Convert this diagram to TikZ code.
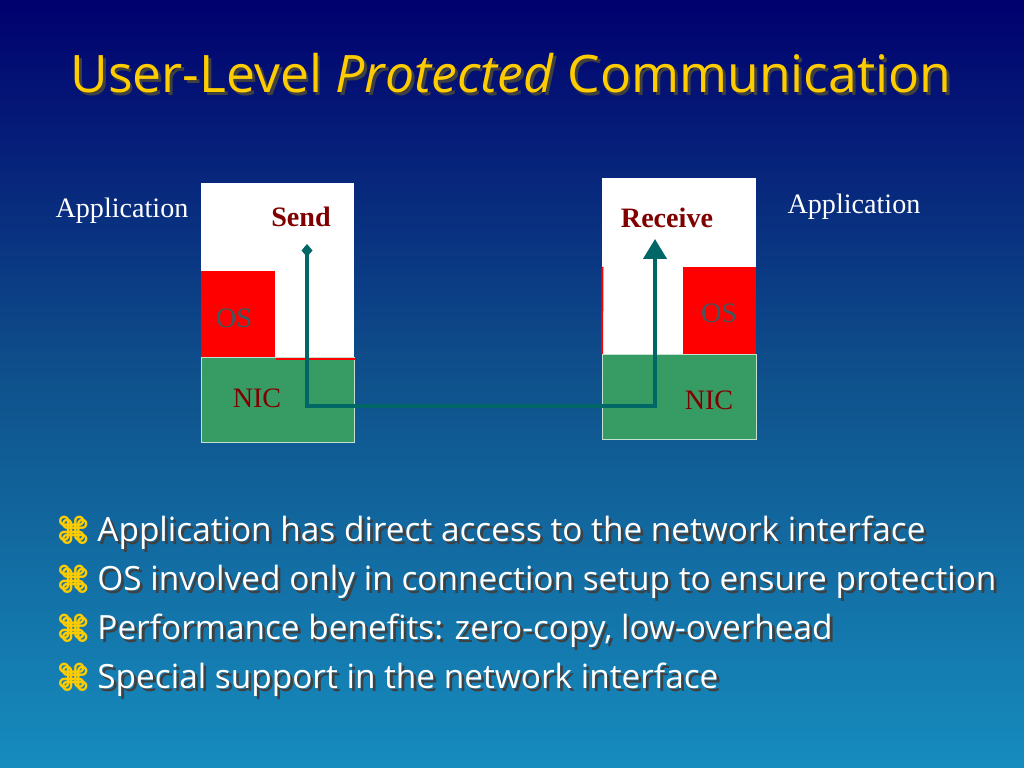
\documentclass[tikz,border=0pt]{standalone}
\usepackage{fontspec}
\setmainfont{Liberation Serif}
\newfontfamily\slidefont{Open Sans}
\newfontfamily\symfont{DejaVu Sans}
\usetikzlibrary{arrows.meta,positioning}

\definecolor{titleyellow}{RGB}{255,204,0}
\definecolor{nicgreen}{RGB}{55,155,100}
\definecolor{osred}{RGB}{255,0,0}
\definecolor{labelred}{RGB}{128,0,0}
\definecolor{ostext}{RGB}{60,90,95}
\definecolor{wireteal}{RGB}{0,102,102}
\definecolor{bgtop}{RGB}{0,0,110}
\definecolor{bgmid}{RGB}{15,82,140}
\definecolor{bgbottom}{RGB}{22,140,190}
\newcommand\shadowed[1]{\leavevmode\rlap{\raisebox{-1.6pt}{\kern1.6pt\textcolor{black!75}{#1}}}#1}

\begin{document}
\begin{tikzpicture}[
    x=0.2mm, y=-0.2mm,
    appbox/.style={rectangle, fill=white, inner sep=0pt, anchor=north west},
    osbox/.style={rectangle, fill=osred, inner sep=0pt, anchor=north west},
    nicbox/.style={rectangle, fill=nicgreen, draw=white!70!nicgreen, line width=0.3pt, inner sep=0pt, anchor=north west},
    lbl/.style={font=\fontsize{16}{18}\selectfont, inner sep=0pt},
    bullet/.style={font=\slidefont\fontsize{19}{22}\selectfont, text=white, anchor=west, inner sep=0pt},
    flow/.style={draw=wireteal, line width=0.8mm, {Diamond[length=2.6mm,width=2.2mm]}-{Triangle[length=4mm,width=4.6mm]}}
]
    \useasboundingbox (0,0) rectangle (1024,768);
    \shade[top color=bgtop, bottom color=bgbottom, middle color=bgmid] (0,0) rectangle (1024,768);

    \node[font=\slidefont\fontsize{29.4}{34}\selectfont, text=titleyellow, inner sep=0pt] (title) at (511,75)
        {\shadowed{User-Level \textit{Protected} Communication}};

    % sending side
    \node[appbox, minimum width=30.6mm, minimum height=51.8mm] (sendapp) at (201,183) {};
    \node[osbox, minimum width=14.8mm, minimum height=17.4mm] (sendos) at (201,271) {};
    \node[nicbox, minimum width=30.6mm, minimum height=17mm] (sendnic) at (201,357) {};
    \draw[osred, line width=0.4mm] (sendos.south east) -- (sendos.south east -| sendnic.east);

    % receiving side
    \node[appbox, minimum width=30.8mm, minimum height=52.2mm] (recvapp) at (602,178) {};
    \node[osbox, minimum width=14.6mm, minimum height=17.4mm] (recvos) at (683,267) {};
    \node[nicbox, minimum width=30.8mm, minimum height=17mm] (recvnic) at (602,354) {};
    \draw[osred, line width=0.4mm] (602.5,267) -- (recvnic.north west);

    \node[lbl, text=white] (appl) at (122,211) {Application};
    \node[lbl, text=white] (appr) at (854,207) {Application};
    \node[lbl, text=labelred, font=\bfseries\fontsize{16}{18}\selectfont] (send) at (301,217) {Send};
    \node[lbl, text=labelred, font=\bfseries\fontsize{16}{18}\selectfont] (recv) at (667,218) {Receive};
    \node[lbl, text=ostext] (osl) at (234,318) {OS};
    \node[lbl, text=ostext] (osr) at (719,313) {OS};
    \node[lbl, text=labelred] (nicl) at (257,398) {NIC};
    \node[lbl, text=labelred] (nicr) at (709,400) {NIC};

    \coordinate (sendstart) at (307,244);
    \coordinate (wire) at (481,406);
    \coordinate (recvend) at (655,239);
    \draw[flow] (sendstart) |- (wire) -| (recvend);

    \node[bullet] (b1) at (55,534) {\shadowed{\textcolor{titleyellow}{\symfont ⌘} Application has direct access to the network interface}};
    \node[bullet] (b2) at (55,583) {\shadowed{\textcolor{titleyellow}{\symfont ⌘} OS involved only in connection setup to ensure protection}};
    \node[bullet] (b3) at (55,632) {\shadowed{\textcolor{titleyellow}{\symfont ⌘} Performance benefits: zero-copy, low-overhead}};
    \node[bullet] (b4) at (55,681) {\shadowed{\textcolor{titleyellow}{\symfont ⌘} Special support in the network interface}};
\end{tikzpicture}
\end{document}
